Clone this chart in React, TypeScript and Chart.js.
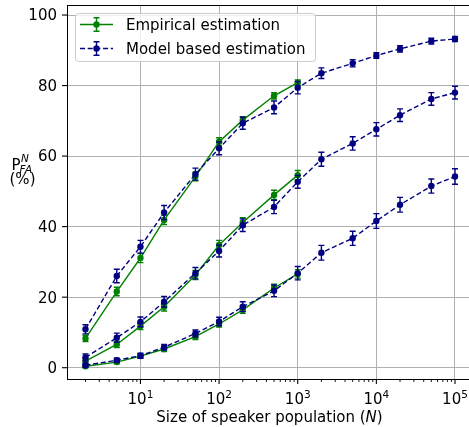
import React, { useEffect, useRef } from 'react';
import { Chart, registerables } from 'chart.js';

Chart.register(...registerables);

// ---- Data ----
const populationSizes = [2, 5, 10, 20, 50, 100, 200, 500, 1000, 2000, 5000, 10000, 20000, 50000, 100000];

const empiricalHigh = [8.3, 21.6, 31.1, 41.9, 54.2, 64.1, 70.2, 77.1, 80.8];
const empiricalHighErr = [0.9, 1.2, 1.3, 1.3, 1.2, 1.1, 1.0, 0.9, 0.8];
const empiricalMid = [1.9, 6.6, 11.8, 17.3, 26.3, 34.8, 41.2, 49.0, 54.6];
const empiricalMidErr = [0.7, 0.9, 1.0, 1.2, 1.3, 1.3, 1.3, 1.3, 1.3];
const empiricalLow = [0.4, 1.6, 3.3, 5.3, 8.8, 12.4, 16.4, 22.6, 26.6];
const empiricalLowErr = [0.4, 0.5, 0.6, 0.7, 0.8, 0.9, 1.0, 1.1, 1.2];

const modelHigh = [10.9, 26.0, 34.3, 44.0, 54.9, 62.2, 69.3, 73.8, 79.4, 83.5, 86.3, 88.5, 90.4, 92.6, 93.2];
const modelHighErr = [1.3, 1.9, 1.8, 2.0, 1.7, 1.8, 1.7, 1.8, 1.75, 1.5, 1.0, 0.8, 0.9, 0.8, 0.7];
const modelMid = [2.9, 8.5, 13.0, 18.7, 26.8, 33.1, 40.4, 45.6, 52.7, 59.1, 63.6, 67.6, 71.6, 76.2, 78.0];
const modelMidErr = [1.0, 1.3, 1.4, 1.5, 1.6, 1.7, 1.8, 1.9, 1.8, 2.0, 1.9, 1.9, 1.8, 1.8, 1.8];
const modelLow = [0.7, 2.1, 3.4, 5.8, 9.7, 13.1, 17.3, 21.8, 26.8, 32.6, 36.7, 41.6, 46.2, 51.5, 54.2];
const modelLowErr = [0.5, 0.6, 0.7, 0.8, 1.0, 1.2, 1.4, 1.65, 1.9, 2.1, 2.0, 2.1, 2.1, 2.0, 2.2];

const xMajorTicks = [10, 100, 1000, 10000, 100000];
const xTickExponents = ['1', '2', '3', '4', '5'];
const yTicks = [0, 20, 40, 60, 80, 100];
const yTickLabels = ['0', '20', '40', '60', '80', '100'];

const legendLabels = ['Empirical estimation', 'Model based estimation'];
const xTitle = 'Size of speaker population (';
const xTitleVar = 'N';

// ---- Styling ----
const GREEN = '#008000';
const NAVY = '#000080';
const FONT = "'DejaVu Sans'";
const X_MIN = 1.164;
const X_MAX = 150700;
const Y_MIN = -3.2;
const Y_MAX = 102.84;
const DASH = [5, 2.7];

function series(values: number[], errs: number[], color: string, dashed: boolean, label: string) {
  return {
    label,
    data: values.map((v, i) => ({ x: populationSizes[i], y: v })),
    errors: errs,
    borderColor: color,
    backgroundColor: color,
    borderWidth: 1.4,
    borderDash: dashed ? DASH : [],
    pointRadius: 3.2,
    pointBorderWidth: 0,
    pointBackgroundColor: color,
    tension: 0,
    order: dashed ? 0 : 1,
  };
}

function drawErrorBar(ctx: CanvasRenderingContext2D, x: number, y1: number, y2: number) {
  ctx.beginPath();
  ctx.moveTo(x, y1);
  ctx.lineTo(x, y2);
  ctx.moveTo(x - 3, y1);
  ctx.lineTo(x + 3, y1);
  ctx.moveTo(x - 3, y2);
  ctx.lineTo(x + 3, y2);
  ctx.stroke();
}

const decorPlugin = {
  id: 'decor',
  afterDatasetDraw(chart: any, args: any) {
    const ds = chart.data.datasets[args.index];
    const errs: number[] = ds.errors;
    if (!errs) return;
    const ctx: CanvasRenderingContext2D = chart.ctx;
    const xs = chart.scales.x;
    const ys = chart.scales.y;
    const a = chart.chartArea;
    ctx.save();
    ctx.beginPath();
    ctx.rect(a.left, a.top, a.right - a.left, a.bottom - a.top);
    ctx.clip();
    ctx.strokeStyle = ds.borderColor;
    ctx.lineWidth = 1.4;
    ctx.setLineDash([]);
    ds.data.forEach((p: any, i: number) => {
      const x = xs.getPixelForValue(p.x);
      drawErrorBar(ctx, x, ys.getPixelForValue(p.y - errs[i]), ys.getPixelForValue(p.y + errs[i]));
    });
    ctx.restore();
  },
  afterDraw(chart: any) {
    const ctx: CanvasRenderingContext2D = chart.ctx;
    const xs = chart.scales.x;
    const ys = chart.scales.y;
    const a = chart.chartArea;
    ctx.save();
    ctx.setLineDash([]);
    // top spine
    ctx.strokeStyle = '#000';
    ctx.lineWidth = 1;
    ctx.beginPath();
    ctx.moveTo(a.left, Math.round(a.top) + 0.5);
    ctx.lineTo(a.right, Math.round(a.top) + 0.5);
    ctx.stroke();

    // y ticks
    ctx.lineWidth = 1.1;
    yTicks.forEach((v) => {
      const y = ys.getPixelForValue(v);
      ctx.beginPath();
      ctx.moveTo(a.left - 5, y);
      ctx.lineTo(a.left, y);
      ctx.stroke();
    });
    // x major ticks
    xMajorTicks.forEach((v) => {
      const x = xs.getPixelForValue(v);
      ctx.beginPath();
      ctx.moveTo(x, a.bottom);
      ctx.lineTo(x, a.bottom + 5);
      ctx.stroke();
    });
    // x minor ticks
    ctx.lineWidth = 0.9;
    for (let e = 0; e <= 5; e++) {
      for (let m = 2; m <= 9; m++) {
        const v = m * Math.pow(10, e);
        if (v < X_MIN || v > X_MAX) continue;
        const x = xs.getPixelForValue(v);
        ctx.beginPath();
        ctx.moveTo(x, a.bottom);
        ctx.lineTo(x, a.bottom + 3);
        ctx.stroke();
      }
    }

    ctx.fillStyle = '#000';
    // y tick labels
    ctx.font = `15px ${FONT}`;
    ctx.textAlign = 'right';
    ctx.textBaseline = 'alphabetic';
    yTicks.forEach((v, i) => {
      const y = ys.getPixelForValue(v);
      ctx.fillText(yTickLabels[i], a.left - 10, y + 5.4);
    });

    // x tick labels: 10^k
    ctx.textAlign = 'left';
    xMajorTicks.forEach((v, i) => {
      const x = xs.getPixelForValue(v);
      ctx.font = `15px ${FONT}`;
      const w1 = ctx.measureText('10').width;
      ctx.font = `10.5px ${FONT}`;
      const w2 = ctx.measureText(xTickExponents[i]).width;
      const start = x - (w1 + w2) / 2;
      ctx.font = `15px ${FONT}`;
      ctx.fillText('10', start, a.bottom + 25);
      ctx.font = `10.5px ${FONT}`;
      ctx.fillText(xTickExponents[i], start + w1, a.bottom + 18.5);
    });

    // x title
    ctx.font = `15px ${FONT}`;
    const t1 = ctx.measureText(xTitle).width;
    ctx.font = `italic 15px ${FONT}`;
    const t2 = ctx.measureText(xTitleVar).width;
    ctx.font = `15px ${FONT}`;
    const t3 = ctx.measureText(')').width;
    const tx = 269.5 - (t1 + t2 + t3) / 2;
    const tb = 422;
    ctx.fillText(xTitle, tx, tb);
    ctx.font = `italic 15px ${FONT}`;
    ctx.fillText(xTitleVar, tx + t1, tb);
    ctx.font = `15px ${FONT}`;
    ctx.fillText(')', tx + t1 + t2, tb);

    // y label: P^N_FA (%)
    ctx.font = `15px ${FONT}`;
    ctx.fillText('P', 11.5, 170);
    ctx.font = `italic 10.5px ${FONT}`;
    ctx.fillText('N', 21, 162);
    ctx.fillText('FA', 19.5, 172.5);
    ctx.font = `15px ${FONT}`;
    ctx.textAlign = 'center';
    ctx.fillText('(%)', 22.5, 184);

    // legend
    const lx = 75.5, ly = 13.5, lw = 240, lh = 48, r = 3;
    ctx.beginPath();
    ctx.moveTo(lx + r, ly);
    ctx.lineTo(lx + lw - r, ly);
    ctx.arcTo(lx + lw, ly, lx + lw, ly + r, r);
    ctx.lineTo(lx + lw, ly + lh - r);
    ctx.arcTo(lx + lw, ly + lh, lx + lw - r, ly + lh, r);
    ctx.lineTo(lx + r, ly + lh);
    ctx.arcTo(lx, ly + lh, lx, ly + lh - r, r);
    ctx.lineTo(lx, ly + r);
    ctx.arcTo(lx, ly, lx + r, ly, r);
    ctx.closePath();
    ctx.fillStyle = 'rgba(255,255,255,0.8)';
    ctx.fill();
    ctx.strokeStyle = '#cccccc';
    ctx.lineWidth = 1;
    ctx.stroke();

    const entries = [
      { color: GREEN, dashed: false, y: 24.5 },
      { color: NAVY, dashed: true, y: 48.5 },
    ];
    entries.forEach((en, i) => {
      ctx.strokeStyle = en.color;
      ctx.fillStyle = en.color;
      ctx.lineWidth = 1.4;
      ctx.setLineDash(en.dashed ? DASH : []);
      ctx.beginPath();
      ctx.moveTo(80, en.y);
      ctx.lineTo(113, en.y);
      ctx.stroke();
      ctx.setLineDash([]);
      drawErrorBar(ctx, 96.5, en.y - 6.7, en.y + 6.7);
      ctx.beginPath();
      ctx.arc(96.5, en.y, 3.2, 0, Math.PI * 2);
      ctx.fill();
      ctx.fillStyle = '#000';
      ctx.font = `15px ${FONT}`;
      ctx.textAlign = 'left';
      ctx.fillText(legendLabels[i], 126, en.y + 5.3);
    });
    ctx.restore();
  },
};

export default function App() {
  const canvasRef = useRef<HTMLCanvasElement | null>(null);

  useEffect(() => {
    const canvas = canvasRef.current;
    if (!canvas) return;
    const chart = new Chart(canvas, {
      type: 'line',
      data: {
        datasets: [
          series(empiricalHigh, empiricalHighErr, GREEN, false, 'Empirical estimation'),
          series(empiricalMid, empiricalMidErr, GREEN, false, 'Empirical estimation'),
          series(empiricalLow, empiricalLowErr, GREEN, false, 'Empirical estimation'),
          series(modelHigh, modelHighErr, NAVY, true, 'Model based estimation'),
          series(modelMid, modelMidErr, NAVY, true, 'Model based estimation'),
          series(modelLow, modelLowErr, NAVY, true, 'Model based estimation'),
        ] as any,
      },
      options: {
        responsive: false,
        animation: false,
        devicePixelRatio: 1,
        layout: { autoPadding: false, padding: { left: 67, top: 5, right: 0, bottom: 48 } },
        plugins: { legend: { display: false }, tooltip: { enabled: false } },
        scales: {
          x: {
            type: 'logarithmic',
            min: X_MIN,
            max: X_MAX,
            bounds: 'data',
            afterBuildTicks: (s: any) => {
              s.ticks = xMajorTicks.map((v) => ({ value: v }));
            },
            afterFit: (s: any) => {
              s.height = 0;
            },
            ticks: { display: false },
            grid: { color: '#b0b0b0', lineWidth: 1, drawTicks: false },
            border: { color: '#000', width: 1 },
          },
          y: {
            type: 'linear',
            min: Y_MIN,
            max: Y_MAX,
            bounds: 'data',
            afterBuildTicks: (s: any) => {
              s.ticks = yTicks.map((v) => ({ value: v }));
            },
            afterFit: (s: any) => {
              s.width = 0;
            },
            ticks: { display: false },
            grid: { color: '#b0b0b0', lineWidth: 1, drawTicks: false },
            border: { color: '#000', width: 1 },
          },
        },
      } as any,
      plugins: [decorPlugin],
    });
    return () => chart.destroy();
  }, []);

  return (
    <div style={{ position: 'fixed', left: 0, top: 0, width: 469, height: 427, background: '#fff' }}>
      <canvas ref={canvasRef} width={469} height={427} style={{ display: 'block' }} />
    </div>
  );
}
